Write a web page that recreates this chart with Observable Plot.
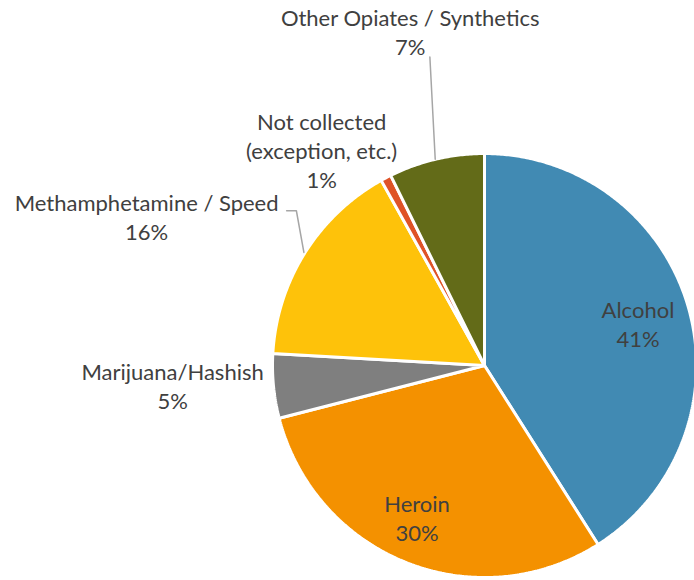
<!DOCTYPE html>
<html>
<head>
<meta charset="utf-8">
<script src="https://cdn.jsdelivr.net/npm/d3@7"></script>
<script src="https://cdn.jsdelivr.net/npm/@observablehq/plot@0.6"></script>
<style>
  html, body { margin: 0; padding: 0; background: #fff; }
  #chart svg { display: block; }
</style>
</head>
<body>
<div id="chart"></div>
<script>
// ---- data ----
const categories = ["Alcohol", "Heroin", "Marijuana/Hashish", "Methamphetamine / Speed", "Not collected", "Other Opiates / Synthetics"];
const shares = [41, 30, 4.9, 16, 0.8, 7.3];
const labelNames = ["Alcohol", "Heroin", "Marijuana/Hashish", "Methamphetamine / Speed", "Not collected\n(exception, etc.)", "Other Opiates / Synthetics"];
const colors = ["#418AB3", "#F49100", "#7F7F7F", "#FEC20A", "#DF5327", "#636B18"];

// ---- layout (label placement relative to each slice's mid-angle) ----
const labelRadius = [0.747, 0.795, 1.475, 1.737, 1.264, 1.602];
const labelAngleNudge = [1.9, 2.0, 1.4, -8.6, -9.7, 0.5];
// leader lines: list of [radius, angle nudge] per slice (empty = none)
const leaders = [[], [], [], [[1.005, 0], [1.149, 7.4], [1.185, 6.0]], [], [[1.0, -0.3], [1.478, 3.1]]];

const total = d3.sum(shares);
const rad = (deg) => deg * Math.PI / 180;
const pt = (r, deg) => ({x: r * Math.sin(rad(deg)), y: r * Math.cos(rad(deg))});

let cum = 0;
const slices = categories.map((c, i) => {
  const a0 = cum / total * 360;
  cum += shares[i];
  const a1 = cum / total * 360;
  return {cat: c, a0, a1, mid: (a0 + a1) / 2, i};
});

const polys = [];
for (const s of slices) {
  polys.push({cat: s.cat, x: 0, y: 0});
  const n = Math.max(2, Math.ceil((s.a1 - s.a0) / 0.5));
  for (let k = 0; k <= n; k++) {
    const p = pt(1, s.a0 + (s.a1 - s.a0) * k / n);
    polys.push({cat: s.cat, ...p});
  }
}

const labels = slices.map((s) => ({
  ...pt(labelRadius[s.i], s.mid + labelAngleNudge[s.i]),
  text: labelNames[s.i] + "\n" + Math.round(shares[s.i]) + "%"
}));

const leaderPts = [];
slices.forEach((s) => {
  leaders[s.i].forEach(([r, da]) => leaderPts.push({cat: s.cat, ...pt(r, s.mid + da)}));
});

const chart = Plot.plot({
  width: 694,
  height: 580,
  style: {background: "white"},
  x: {domain: [-1, 1], range: [272, 696], axis: null},
  y: {domain: [-1, 1], range: [577, 153], axis: null},
  color: {domain: categories, range: colors},
  marks: [
    Plot.line(polys, {x: "x", y: "y", z: "cat", fill: "cat", stroke: "white", strokeWidth: 3, strokeLinejoin: "miter", curve: "linear-closed"}),
    Plot.line(leaderPts, {x: "x", y: "y", z: "cat", stroke: "#A6A6A6", strokeWidth: 1.5}),
    Plot.text(labels, {x: "x", y: "y", dy: -3, text: "text", fill: "#404040", fontSize: 22, fontFamily: "Lato", lineHeight: 1.31, textAnchor: "middle", lineAnchor: "middle"})
  ]
});
document.getElementById("chart").append(chart);
</script>
</body>
</html>
